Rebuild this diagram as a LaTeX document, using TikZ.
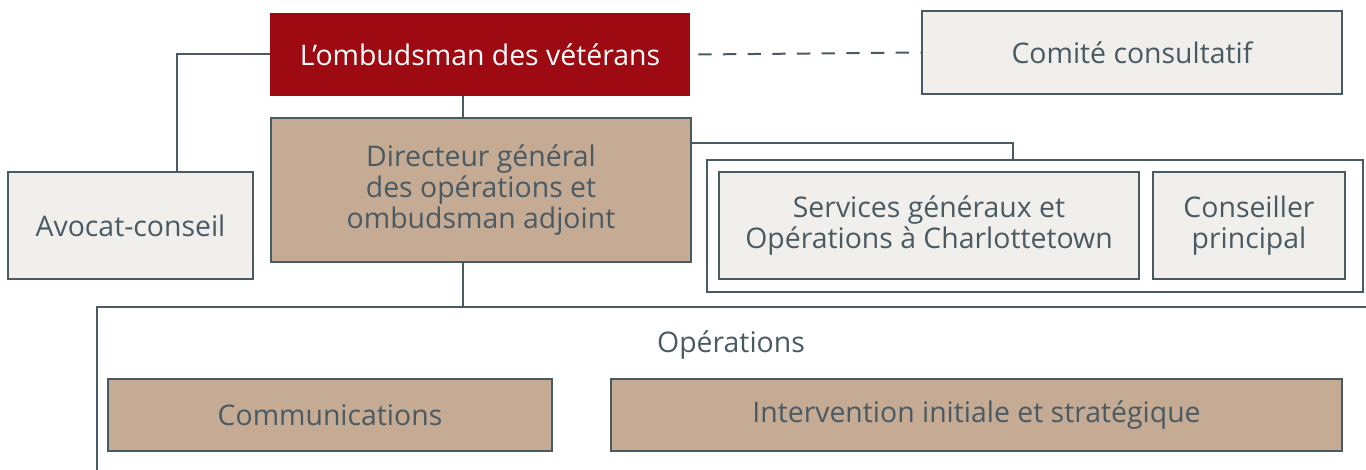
\documentclass[tikz,border=0pt]{standalone}
\usepackage{fontspec}
\setmainfont{Open Sans}
\usetikzlibrary{positioning}

\definecolor{ovred}{HTML}{9E0A11}
\definecolor{ovtan}{HTML}{C5AA94}
\definecolor{ovgray}{HTML}{F0EFEC}
\definecolor{ovslate}{HTML}{4A5A63}

\begin{document}
\begin{tikzpicture}[x=0.75pt, y=-0.75pt,
    every node/.style={font=\fontsize{21.3}{23}\selectfont, text=ovslate, align=center, inner sep=0pt},
    unit/.style={draw=ovslate, line width=1.9pt, fill=ovgray, rectangle},
    head/.style={fill=ovred, text=white, rectangle},
    staff/.style={unit, fill=ovtan},
    link/.style={draw=ovslate, line width=1.5pt}]
    \useasboundingbox (0,0) rectangle (1366,470);

    % top row
    \node [head, minimum width=315pt, minimum height=62.25pt] (ovo) at (480,54.5) {L’ombudsman des vétérans};
    \node [unit, minimum width=315pt, minimum height=62.25pt] (comite) at (1132,52.5) {Comité consultatif};

    % second row
    \node [unit, minimum width=183.75pt, minimum height=80.25pt] (avocat) at (130.5,225.5) {Avocat-conseil};
    \node [staff, minimum width=315pt, minimum height=108pt] (dg) at (481,190) {Directeur général\\des opérations et\\ombudsman adjoint};
    \node [draw=ovslate, line width=1.5pt, fill=white, minimum width=492pt, minimum height=99pt] (groupe) at (1035,226) {};
    \node [unit, minimum width=315pt, minimum height=80.25pt] (services) at (929,225.5) {Services généraux et\\Opérations à Charlottetown};
    \node [unit, minimum width=144pt, minimum height=80.25pt] (conseiller) at (1249,225.5) {Conseiller\\principal};

    % operations
    \coordinate (trunk) at (463,307);
    \draw [link] (1380,307) -- (97,307) -- (97,480);
    \node (ops) at (731,345) {Opérations};
    \node [staff, minimum width=333pt, minimum height=54pt] (comm) at (330,415) {Communications};
    \node [staff, minimum width=548.25pt, minimum height=54pt] (interv) at (976.5,415) {Intervention initiale et stratégique};

    % connectors
    \draw [link] (ovo.south -| trunk) -- (dg.north -| trunk);
    \draw [link] (dg.south -| trunk) -- (trunk);
    \draw [link] ([xshift=34.9pt]avocat.north) |- (ovo.west);
    \draw [link, dash pattern=on 10pt off 8.5pt] ([xshift=6pt]ovo.east) -- (comite.west);
    \draw [link] ([yshift=35.25pt]dg.east) -| ([xshift=-16.5pt]groupe.north);
\end{tikzpicture}
\end{document}
